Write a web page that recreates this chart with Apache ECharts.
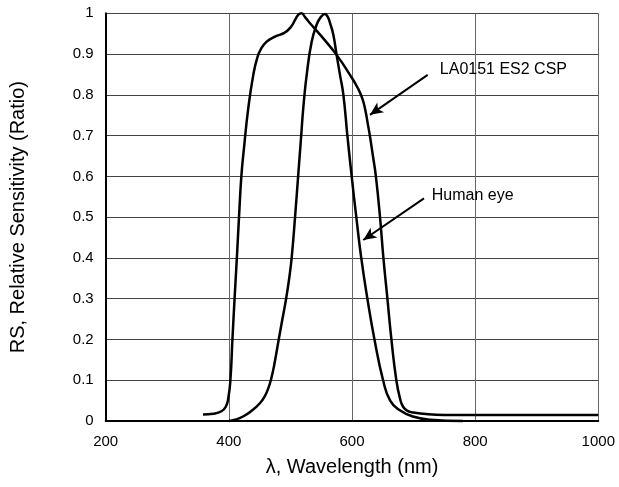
<!DOCTYPE html>
<html>
<head>
<meta charset="utf-8">
<script src="https://cdn.jsdelivr.net/npm/echarts@6/dist/echarts.min.js"></script>
<style>html,body{margin:0;padding:0;background:#fff}#c{width:619px;height:487px}</style>
</head>
<body>
<div id="c"></div>
<script>
// Data
const xTicks = [200, 400, 600, 800, 1000];
const yTicks = [0, 0.1, 0.2, 0.3, 0.4, 0.5, 0.6, 0.7, 0.8, 0.9, 1];

const sensorName = 'LA0151 ES2 CSP';
const sensorWl = [358, 375, 388, 395, 399, 402.5, 405.8, 409.3, 413, 416.5, 420.3, 424.6, 431.6, 439.7, 446, 452, 461, 475, 490, 500, 508, 513, 518, 524, 535, 553, 575, 596.7, 610, 617, 622, 625.5, 629, 634, 638.8, 645.5, 651, 657.5, 664, 672, 678, 683, 690, 700, 720, 750, 1000];
const sensorRS = [0.016, 0.018, 0.024, 0.035, 0.055, 0.1, 0.2, 0.3, 0.4, 0.5, 0.6, 0.67, 0.768, 0.849, 0.89, 0.912, 0.93, 0.943, 0.952, 0.965, 0.985, 0.997, 1.0, 0.99, 0.97, 0.939, 0.898, 0.849, 0.815, 0.79, 0.76, 0.73, 0.7, 0.65, 0.6, 0.5, 0.4, 0.3, 0.2, 0.1, 0.055, 0.035, 0.025, 0.021, 0.017, 0.015, 0.015];

const eyeName = 'Human eye';
const eyeWl = [400, 410, 423, 437, 450, 458, 464, 469, 474, 481, 487, 493, 498, 502, 507.5, 512.5, 517.5, 521, 526.5, 534.5, 542.6, 549, 556, 561, 564.5, 569.6, 575, 580.5, 586, 592.5, 599.5, 607, 615, 625, 636.5, 650.5, 662, 677, 699, 727, 780];
const eyeRS = [0, 0.003, 0.011, 0.025, 0.043, 0.06, 0.08, 0.105, 0.14, 0.2, 0.25, 0.3, 0.35, 0.4, 0.5, 0.6, 0.7, 0.77, 0.85, 0.93, 0.972, 0.99, 0.998, 0.99, 0.975, 0.948, 0.898, 0.849, 0.8, 0.7, 0.6, 0.5, 0.4, 0.3, 0.2, 0.1, 0.05, 0.027, 0.011, 0.003, 0];

// Annotation anchors (data space): label position, arrow tail, arrow head
const sensorLabelAt = [742.6, 0.863];
const sensorArrow = [[722.9, 0.849], [629.2, 0.751]];
const eyeLabelAt = [729.5, 0.554];
const eyeArrow = [[716.9, 0.546], [618.3, 0.444]];

const xAxisName = 'λ, Wavelength (nm)';
const yAxisName = 'RS, Relative Sensitivity (Ratio)';

function pairs(xs, ys) { return xs.map((x, i) => [x, ys[i]]); }

const font = 'Liberation Sans';

function annot(labelAt, arrow, text) {
  return {
    markLine: {
      silent: true,
      animation: false,
      symbol: ['none', 'arrow'],
      symbolSize: [9, 13],
      lineStyle: { color: '#000', width: 2, type: 'solid' },
      label: { show: false },
      data: [[{ coord: arrow[0] }, { coord: arrow[1] }]]
    },
    markPoint: {
      silent: true,
      animation: false,
      symbol: 'circle',
      symbolSize: 0,
      label: {
        show: true, position: 'right', distance: 0,
        color: '#000', fontFamily: font, fontSize: 16,
        formatter: text
      },
      data: [{ coord: labelAt, name: text }]
    }
  };
}

const chart = echarts.init(document.getElementById('c'), null, { renderer: 'canvas' });
chart.setOption({
  animation: false,
  backgroundColor: '#fff',
  grid: { left: 105.7, right: 20.7, top: 13.3, bottom: 66, containLabel: false, outerBoundsMode: 'none' },
  xAxis: {
    type: 'value', min: xTicks[0], max: xTicks[xTicks.length - 1], interval: 200,
    name: xAxisName, nameLocation: 'middle', nameGap: 36,
    nameTextStyle: { fontFamily: font, fontSize: 20, color: '#000' },
    axisLine: { show: true, onZero: false, lineStyle: { color: '#000', width: 2 } },
    axisTick: { show: false },
    axisLabel: { margin: 13, fontFamily: font, fontSize: 15, color: '#000', formatter: v => String(v) },
    splitLine: { show: true, lineStyle: { color: '#666', width: 1 } }
  },
  yAxis: {
    type: 'value', min: yTicks[0], max: yTicks[yTicks.length - 1], interval: 0.1,
    name: yAxisName, nameLocation: 'middle', nameGap: 77,
    nameTextStyle: { fontFamily: font, fontSize: 20, color: '#000' },
    axisLine: { show: true, onZero: false, lineStyle: { color: '#000', width: 2 } },
    axisTick: { show: false },
    axisLabel: { margin: 12, fontFamily: font, fontSize: 15, color: '#000', formatter: v => String(Math.round(v * 10) / 10) },
    splitLine: { show: true, lineStyle: { color: '#444', width: 1 } }
  },
  series: [
    Object.assign({
      name: sensorName, type: 'line', data: pairs(sensorWl, sensorRS),
      smooth: 0.5, showSymbol: false, symbol: 'none', clip: false,
      lineStyle: { color: '#000', width: 2.5 }
    }, annot(sensorLabelAt, sensorArrow, sensorName)),
    Object.assign({
      name: eyeName, type: 'line', data: pairs(eyeWl, eyeRS),
      smooth: 0.5, showSymbol: false, symbol: 'none', clip: false,
      lineStyle: { color: '#000', width: 2.5 }
    }, annot(eyeLabelAt, eyeArrow, eyeName))
  ]
});
</script>
</body>
</html>
